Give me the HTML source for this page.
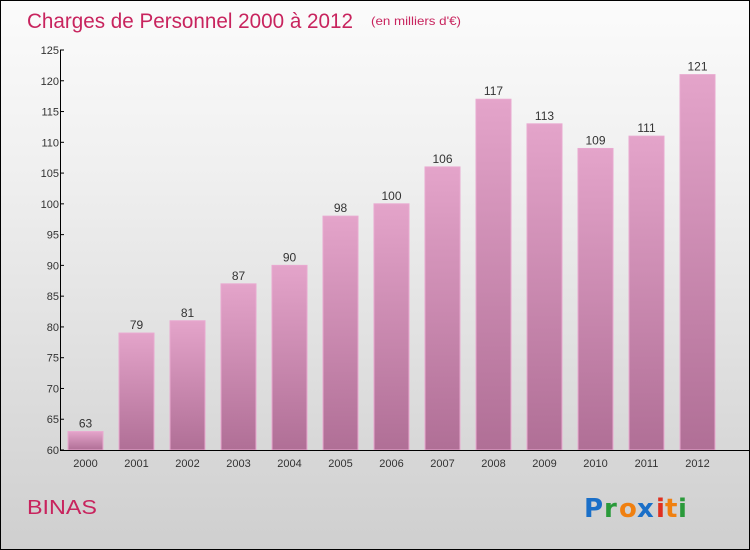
<!DOCTYPE html>
<html><head><meta charset="utf-8"><style>
body{margin:0}
#c{position:relative;width:748px;height:548px;border:1px solid #000;background:linear-gradient(#fbfbfb,#f0f0f0 30%,#cfcfcf);font-family:"Liberation Sans",sans-serif;overflow:hidden}
</style></head><body>
<div id="c">
<svg width="748" height="548" id="svg">
<defs><linearGradient id="bg" x1="0" y1="0" x2="0" y2="1"><stop offset="0" stop-color="#e4a4ca"/><stop offset="1" stop-color="#b06f96"/></linearGradient></defs>
<text x="26" y="27" font-size="21" fill="#c8245e" textLength="326" lengthAdjust="spacingAndGlyphs">Charges de Personnel 2000 à 2012</text>
<text x="370" y="24" font-size="12" fill="#c8245e" textLength="90" lengthAdjust="spacingAndGlyphs">(en milliers d'€)</text>
<text x="26" y="513" font-size="20" fill="#c8245e" textLength="70" lengthAdjust="spacingAndGlyphs">BINAS</text>
<g font-size="26" font-weight="bold" font-family="'DejaVu Sans',sans-serif">
<text x="583" y="516" fill="#1a6fc8">P</text><text x="603" y="516" fill="#2a9a3a">r</text><text x="618" y="516" fill="#f08010">o</text><text x="636" y="516" fill="#1a6fc8">x</text><text x="655" y="516" fill="#e03020">i</text><text x="664" y="516" fill="#f08010">t</text><text x="677" y="516" fill="#2a9a3a">i</text></g>
<g id="plot"></g>
</svg></div>
<script>
const years=["2000","2001","2002","2003","2004","2005","2006","2007","2008","2009","2010","2011","2012"];
const values=[63,79,81,87,90,98,100,106,117,113,109,111,121];
const yTicks=[60,65,70,75,80,85,90,95,100,105,110,115,120,125];
const NS="http://www.w3.org/2000/svg";
const g=document.getElementById('plot');
const y=v=>449-(v-60)*400/65;
const x=i=>84.5+i*51;
function mk(t,a){const e=document.createElementNS(NS,t);for(const k in a)e.setAttribute(k,a[k]);g.appendChild(e);return e;}
values.forEach((v,i)=>{
 const r=mk('rect',{x:x(i)-17.5,y:y(v),width:35,height:449-y(v),fill:'url(#bg)',stroke:'#e9a9d0','stroke-width':1});
 
 
 const t=mk('text',{x:x(i),y:y(v)-4,'text-anchor':'middle','font-size':12,fill:'#333'});t.textContent=v;
 
 
 const xl=mk('text',{x:x(i),y:466,'text-anchor':'middle','font-size':11,fill:'#333'});xl.textContent=years[i];
 
 
});
yTicks.forEach(v=>{
 mk('line',{x1:59,x2:63,y1:y(v),y2:y(v),stroke:'#000'});
 const t=mk('text',{x:58,y:y(v)+4,'text-anchor':'end','font-size':11,fill:'#333'});t.textContent=v;
 
 
});
const ya=mk('line',{x1:59.5,x2:59.5,y1:y(125),y2:449.5,stroke:'#000'});


const xa=mk('line',{x1:59,x2:748,y1:449.5,y2:449.5,stroke:'#000'});


</script>
</body></html>
